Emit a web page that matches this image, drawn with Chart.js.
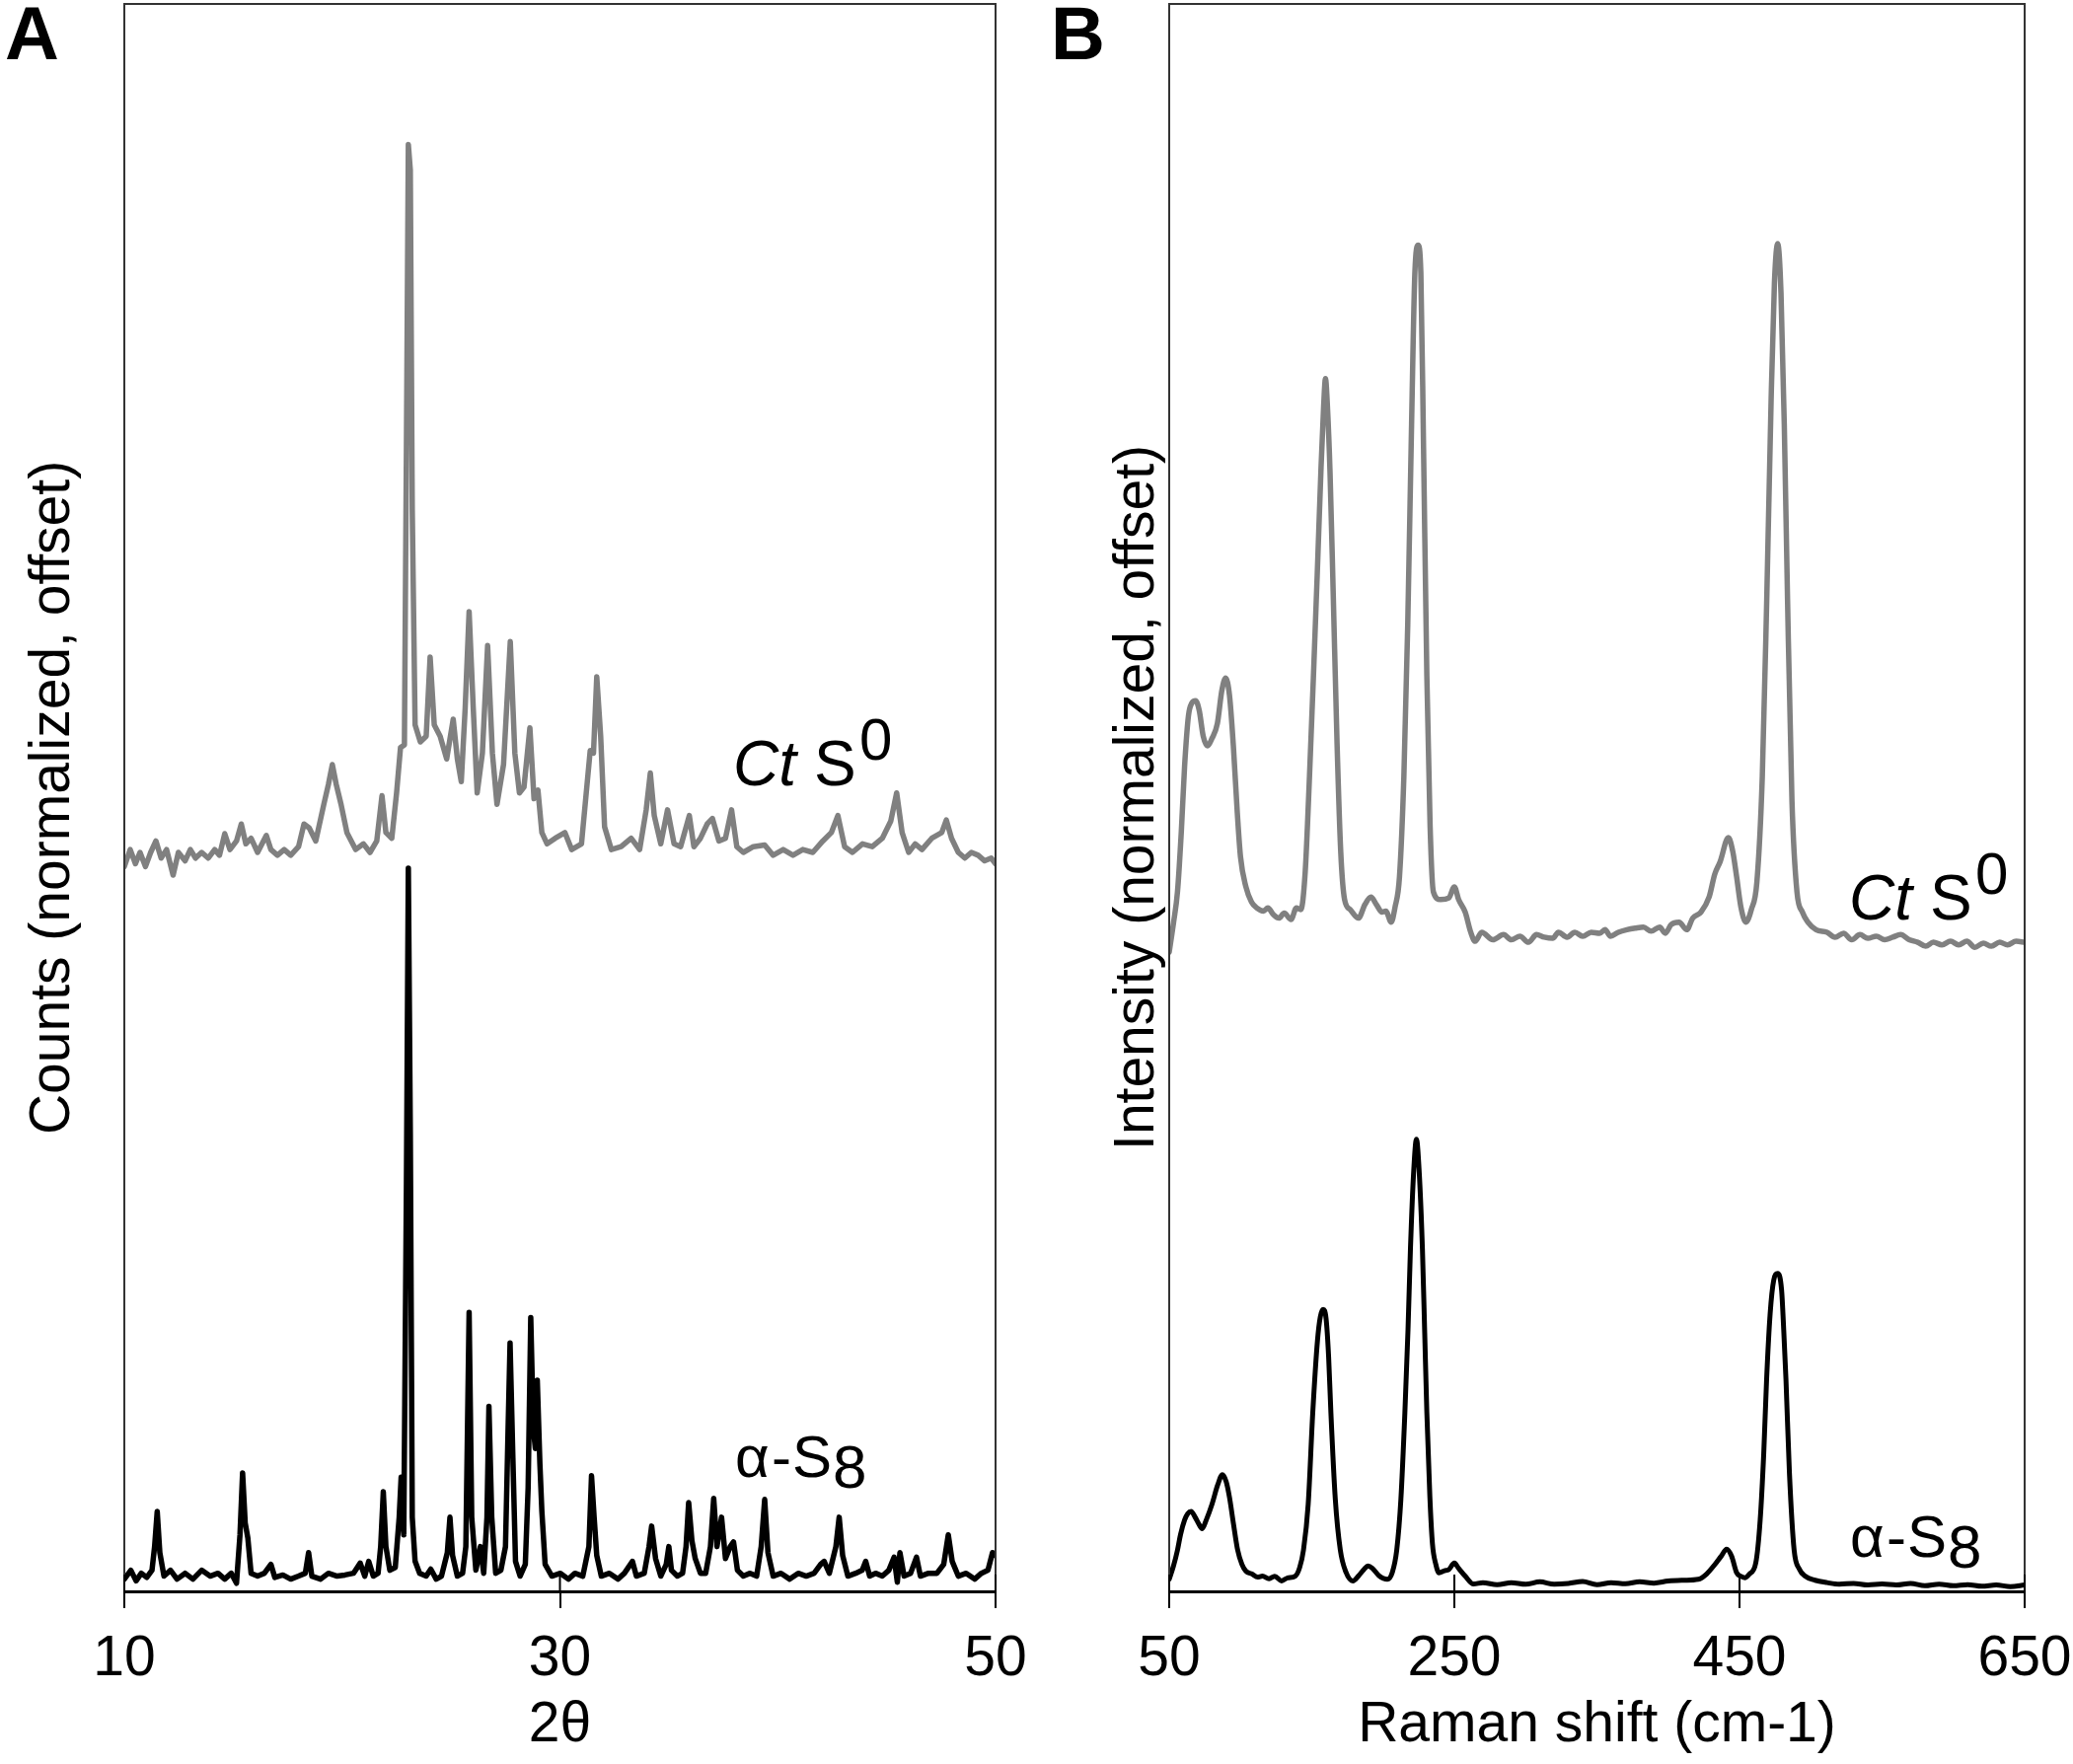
<!DOCTYPE html>
<html>
<head>
<meta charset="utf-8">
<script src="https://cdn.jsdelivr.net/npm/chart.js@4.4.0/dist/chart.umd.min.js"></script>
<style>
  body { margin: 0; background: #fff; width: 2101px; height: 1788px; overflow: hidden; position: relative; }
  .panel { position: absolute; top: 0; }
</style>
</head>
<body>
<div class="panel" style="left:0"><canvas id="xrd" width="1060" height="1788" style="width:1060px;height:1788px"></canvas></div>
<div class="panel" style="left:1040px"><canvas id="raman" width="1090" height="1788" style="width:1090px;height:1788px"></canvas></div>
<script>
// panel A: XRD, 2-theta vs normalized counts (offset)
var xrdTicks = [10, 30, 50];
var xrdCtX = [10.0,10.27,10.51,10.72,10.97,11.21,11.45,11.69,11.94,12.24,
  12.48,12.79,13.03,13.27,13.55,13.85,14.15,14.37,14.61,14.85,
  15.15,15.37,15.58,15.82,16.12,16.52,16.73,17.03,17.34,17.64,
  18.0,18.25,18.49,18.79,19.16,19.37,19.55,19.73,19.95,20.22,
  20.62,20.98,21.28,21.59,21.83,22.01,22.28,22.50,22.68,22.86,
  22.95,23.04,23.13,23.22,23.35,23.59,23.86,24.04,24.23,24.50,
  24.80,25.10,25.29,25.47,25.65,25.83,26.02,26.20,26.44,26.68,
  26.90,27.11,27.41,27.72,27.93,28.14,28.35,28.62,28.81,28.99,
  29.17,29.41,29.78,30.23,30.54,30.99,31.39,31.54,31.69,31.87,
  32.05,32.36,32.81,33.27,33.66,33.96,34.15,34.33,34.63,34.94,
  35.24,35.54,35.94,36.15,36.45,36.76,37.0,37.30,37.60,37.88,
  38.12,38.42,38.88,39.40,39.79,40.25,40.70,41.15,41.61,42.07,
  42.46,42.76,43.07,43.43,43.89,44.34,44.80,45.19,45.46,45.71,
  46.01,46.31,46.62,47.07,47.53,47.74,47.98,48.29,48.59,48.89,
  49.20,49.50,49.80,50.0];
var xrdCtY = [45.66,46.73,45.84,46.55,45.66,46.55,47.27,46.19,46.73,45.12,
  46.55,46.02,46.73,46.19,46.55,46.19,46.73,46.37,47.73,46.73,
  47.27,48.34,47.09,47.44,46.55,47.62,46.73,46.37,46.73,46.37,
  46.91,48.34,48.09,47.27,49.58,50.83,52.08,50.83,49.58,47.80,
  46.73,47.09,46.55,47.27,50.12,47.80,47.44,50.30,53.15,53.33,
  71.71,91.15,89.55,68.14,54.58,53.51,53.87,58.86,54.58,53.87,
  52.44,54.94,52.44,51.01,55.65,61.72,55.65,50.30,52.80,59.58,
  52.80,49.58,52.08,59.83,52.80,50.30,50.66,54.40,49.94,50.48,
  47.80,47.09,47.44,47.80,46.73,47.09,52.97,52.80,57.61,53.87,
  48.16,46.73,46.91,47.44,46.73,49.23,51.55,48.87,47.09,49.23,
  47.09,46.91,48.87,46.91,47.44,48.34,48.69,47.27,47.44,49.23,
  46.91,46.55,46.91,47.02,46.37,46.73,46.37,46.73,46.55,47.27,
  47.80,48.87,46.91,46.55,47.09,46.91,47.44,48.52,50.30,47.80,
  46.55,47.09,46.73,47.44,47.80,48.59,47.44,46.55,46.19,46.55,
  46.37,46.02,46.19,45.84];
var xrdS8X = [10.0,10.30,10.54,10.78,11.03,11.27,11.39,11.51,11.63,11.82,
  12.12,12.42,12.79,13.15,13.55,13.94,14.30,14.61,14.91,15.15,
  15.31,15.43,15.55,15.67,15.82,16.12,16.43,16.73,16.91,17.28,
  17.64,18.0,18.31,18.46,18.61,19.01,19.37,19.77,20.13,20.52,
  20.83,21.04,21.22,21.43,21.65,21.77,21.89,22.01,22.19,22.44,
  22.62,22.71,22.83,22.95,23.04,23.13,23.22,23.35,23.56,23.86,
  24.07,24.32,24.56,24.83,24.95,25.07,25.29,25.53,25.68,25.83,
  25.95,26.14,26.35,26.50,26.65,26.74,26.87,27.05,27.29,27.50,
  27.62,27.71,27.84,27.96,28.17,28.41,28.54,28.66,28.78,28.87,
  28.96,29.08,29.17,29.32,29.63,30.02,30.39,30.69,31.05,31.33,
  31.45,31.57,31.69,31.90,32.27,32.66,32.96,33.33,33.51,33.87,
  34.09,34.21,34.39,34.63,34.88,35.0,35.12,35.39,35.63,35.79,
  35.91,36.06,36.21,36.45,36.69,36.91,37.06,37.21,37.42,37.60,
  37.82,37.97,38.15,38.42,38.73,39.03,39.24,39.40,39.55,39.79,
  40.15,40.55,40.94,41.31,41.67,41.97,42.13,42.37,42.67,42.82,
  42.98,43.22,43.58,43.88,44.04,44.22,44.49,44.80,45.10,45.34,
  45.49,45.61,45.80,46.10,46.37,46.55,46.92,47.31,47.62,47.83,
  48.01,48.29,48.65,49.04,49.35,49.65,49.86,50.0];
var xrdS8Y = [0.77,1.33,0.66,1.14,0.88,1.33,2.82,5.04,2.44,0.96,
  1.33,0.77,1.14,0.77,1.33,0.96,1.14,0.77,1.14,0.51,
  3.56,7.46,4.30,3.37,1.14,0.96,1.14,1.70,0.88,1.03,
  0.77,0.96,1.14,2.44,0.96,0.77,1.14,0.96,1.03,1.14,
  1.78,0.96,1.89,0.96,1.14,2.82,6.27,2.82,1.33,1.51,
  4.67,7.20,3.56,25.12,45.56,28.84,4.67,1.89,1.14,0.96,
  1.40,0.77,0.96,2.44,4.67,2.26,0.96,1.14,2.82,17.57,
  4.67,1.33,2.82,1.14,4.67,11.66,4.67,1.14,1.33,2.82,
  10.25,15.64,8.39,1.89,0.96,1.70,6.53,17.24,10.25,9.0,
  13.30,8.02,5.04,1.70,0.96,1.14,0.77,1.14,0.96,2.82,
  7.28,4.67,2.26,0.96,1.14,0.77,1.14,1.89,0.96,1.14,
  2.82,4.11,2.07,0.96,1.70,2.82,1.33,0.96,1.14,2.82,
  5.60,3.19,2.07,1.14,1.14,2.82,5.86,2.82,4.67,2.07,
  2.82,3.11,1.33,0.96,1.14,0.96,2.82,5.79,2.44,0.96,
  1.14,0.77,1.14,0.96,1.14,1.70,1.89,1.14,2.82,4.67,
  2.26,0.96,1.14,1.33,1.89,0.96,1.14,0.96,1.33,2.15,
  0.58,2.44,0.96,1.14,2.15,0.96,1.14,1.14,1.70,3.56,
  1.89,0.96,1.14,0.77,1.14,1.33,2.44,2.26];

// panel B: Raman shift (cm-1) vs normalized intensity (offset), [shift, intensity]
var ramanTicks = [50, 250, 450, 650];
var ramanCt = [
  [50,40.26],[53.1,42.16],[55.8,44.06],[58.5,47.87],[60.8,51.99],[63.5,55.16],[65.8,55.95],[68.5,56.11],[71.1,55.48],[73.8,53.89],
  [76.9,53.26],[80,53.73],[83.8,54.68],[86.9,56.74],[89.6,57.54],[92.3,56.43],[95,53.26],[97.7,49.14],[100,46.28],[103.8,44.38],
  [107.7,43.43],[111.5,43.05],[116.1,42.86],[119.2,43.05],[123.1,42.63],[126.9,42.41],[130.7,42.73],[135.4,42.32],[139.2,43.05],[142.3,42.95],
  [145.4,45.33],[148.4,51.35],[151.1,57.5],[153.8,64.0],[156.5,70.8],[158.3,74.6],[159.6,76.4],[161,74.6],[162.8,70.5],[165,63.0],
  [167.7,53.5],[170.3,46.6],[173,43.58],[176.9,42.95],[182.7,42.41],[187.3,43.27],[191.5,43.74],[195.3,43.27],[199.2,42.79],[201.9,42.86],
  [205.7,42.16],[208.4,43.1],[211.5,45.0],[214.6,51.35],[217.3,60.87],[220,73.55],[222.3,83.06],[224.6,84.8],[226.5,83.06],[228.4,71.97],
  [230.7,57.7],[233,48.18],[235.3,44.06],[240.3,43.58],[246.1,43.68],[250,44.38],[253,43.58],[257.6,42.79],[261.5,41.52],[264.6,40.95],
  [269.2,41.52],[277,41.05],[284.5,41.37],[290,41.05],[296,41.27],[302,40.89],[307.6,41.37],[313,41.21],[319,41.14],[323,41.52],
  [329,41.21],[334.5,41.52],[340,41.27],[346,41.52],[352,41.46],[355.7,41.68],[359.5,41.27],[365,41.52],[371,41.68],[377,41.78],
  [382.6,41.84],[388,41.59],[394,41.84],[398,41.46],[402,42.0],[407.6,42.16],[413,41.68],[417.2,42.41],[423,42.79],[428.7,43.74],
  [432.6,45.17],[436.4,45.96],[442.2,47.48],[445.3,46.6],[448,45.0],[451,43.1],[454.5,42.16],[458.3,42.95],[462.2,44.69],[466,51.35],
  [469.1,62.45],[472.2,75.14],[474.5,82.43],[476.8,84.9],[479.1,81.8],[481.4,73.55],[483.7,62.45],[486.8,49.77],[490.3,44.06],[494.1,42.79],
  [497.9,42.16],[503.7,41.68],[511.4,41.52],[517,41.21],[523,41.46],[528.7,41.05],[534.5,41.37],[540,41.14],[546,41.27],[551.8,41.05],
  [557.5,41.21],[563,41.37],[569,41.05],[575,40.89],[580.6,40.64],[586,40.89],[592,40.73],[598,40.95],[603.7,40.73],[609.5,40.95],
  [615,40.57],[621,40.83],[626.7,40.64],[632.5,40.89],[638,40.73],[644,40.95],[650,40.89]
];
var ramanS8 = [
  [50,0.76],[53,1.6],[55.8,2.6],[58,3.6],[60.8,4.5],[63,4.9],[65.4,5.04],[68,4.7],[71,4.2],[73.1,3.95],
  [76,4.5],[80,5.49],[84,6.7],[87.3,7.35],[90,6.9],[92.3,5.91],[95,4.3],[98,2.61],[101,1.7],[103.8,1.27],
  [108,1.1],[112,0.9],[115.4,0.96],[120,0.8],[124,0.95],[128.8,0.66],[133,0.85],[138.4,0.96],[141.5,1.5],[144.2,2.61],
  [147.5,5.5],[150.7,11.27],[154,15.8],[156,17.3],[158,17.76],[160,17.2],[161.8,14.8],[163.4,11.27],[166.5,5.8],[170,2.61],
  [174,1.2],[178.8,0.66],[183,1.0],[186.5,1.37],[189.5,1.6],[192.3,1.47],[197,1.0],[203,0.76],[206.5,1.2],[209.6,2.61],
  [212.5,5.8],[215.3,11.27],[217.5,16.5],[219.2,21.57],[221.5,26.5],[223.4,28.48],[225.3,26.5],[227.6,21.57],[229.2,16.3],[230.7,11.27],
  [232.8,6.0],[234.6,3.02],[237,1.7],[239.2,1.17],[243,1.3],[246.1,1.37],[250,1.78],[253,1.45],[257.6,0.96],[263.4,0.46],
  [270,0.55],[280,0.42],[290,0.55],[300,0.45],[310,0.6],[320,0.45],[330,0.5],[340,0.62],[350,0.42],[360,0.55],
  [370,0.48],[380,0.6],[390,0.52],[400,0.65],[411,0.7],[421,0.76],[427,1.1],[432.6,1.68],[437,2.2],[441,2.65],
  [444.5,2.2],[448,1.17],[450.8,0.95],[453.7,0.86],[457,1.1],[461.4,1.78],[464.5,4.5],[467,8.7],[469,13.33],[471.5,17.5],
  [474,19.6],[476.8,20.03],[479.5,19.0],[481,16.5],[482.6,13.33],[485,7.5],[488.3,2.61],[492,1.4],[496,0.96],[503,0.7],
  [511.4,0.55],[520,0.45],[530,0.5],[540,0.4],[550,0.46],[560,0.4],[570,0.5],[580,0.35],[590,0.45],[600,0.35],
  [610,0.42],[620,0.32],[630,0.4],[640,0.3],[650,0.4]
];

var FONT = '"Liberation Sans", Arial, Helvetica, sans-serif';
Chart.defaults.font.family = FONT;
Chart.defaults.color = '#000';

function xy(xs, ys) { return xs.map(function (v, i) { return {x: v, y: ys[i]}; }); }
function pairs(list) { return list.map(function (p) { return {x: p[0], y: p[1]}; }); }

// sample labels drawn next to the traces
function ctLabel(x, y) {
  return {x: x, y: y, parts: [
    {text: 'Ct', font: 'italic 64px ' + FONT, dx: 0, dy: 0},
    {text: 'S', font: '64px ' + FONT, dx: 82, dy: 0},
    {text: '0', font: '60px ' + FONT, dx: 128, dy: -26}
  ]};
}
function s8Label(x, y) {
  return {x: x, y: y, parts: [
    {text: 'α', font: '60px ' + FONT, dx: 0, dy: 0},
    {text: '-', font: '60px ' + FONT, dx: 37, dy: 0},
    {text: 'S', font: '60px ' + FONT, dx: 58, dy: 0},
    {text: '8', font: '62px ' + FONT, dx: 99, dy: 11}
  ]};
}

var panelDecor = {
  id: 'panelDecor',
  afterDatasetsDraw: function (chart, args, o) {
    var ctx = chart.ctx, a = chart.chartArea, x = chart.scales.x, y = chart.scales.y;
    ctx.save();
    // box round the plot (bottom line is the x axis border)
    ctx.strokeStyle = '#333';
    ctx.lineWidth = 2;
    ctx.beginPath();
    ctx.moveTo(a.left, a.bottom);
    ctx.lineTo(a.left, a.top);
    ctx.lineTo(a.right, a.top);
    ctx.lineTo(a.right, a.bottom);
    ctx.stroke();
    // tick marks also cross into the plot
    ctx.strokeStyle = '#000';
    x.ticks.forEach(function (t) {
      var px = x.getPixelForValue(t.value);
      ctx.beginPath();
      ctx.moveTo(px, a.bottom);
      ctx.lineTo(px, a.bottom - 17);
      ctx.stroke();
    });
    ctx.fillStyle = '#000';
    ctx.textBaseline = 'alphabetic';
    ctx.textAlign = 'left';
    ctx.font = 'bold 76px ' + FONT;
    ctx.fillText(o.letter, o.letterX, 60);
    o.labels.forEach(function (l) {
      var bx = x.getPixelForValue(l.x), by = y.getPixelForValue(l.y);
      l.parts.forEach(function (p) {
        ctx.font = p.font;
        ctx.fillText(p.text, bx + p.dx, by + p.dy);
      });
    });
    ctx.restore();
  }
};

function makePanel(id, cfg) {
  return new Chart(document.getElementById(id), {
    type: 'line',
    data: {datasets: cfg.datasets},
    plugins: [panelDecor],
    options: {
      responsive: false,
      animation: false,
      devicePixelRatio: 1,
      layout: {padding: {top: 4, right: cfg.padRight, left: 0, bottom: 0}},
      elements: {point: {radius: 0}, line: {borderJoinStyle: 'round', borderCapStyle: 'round'}},
      plugins: {
        legend: {display: false},
        tooltip: {enabled: false},
        panelDecor: {letter: cfg.letter, letterX: cfg.letterX, labels: cfg.labels}
      },
      scales: {
        x: {
          type: 'linear',
          min: cfg.ticks[0],
          max: cfg.ticks[cfg.ticks.length - 1],
          afterBuildTicks: function (s) { s.ticks = cfg.ticks.map(function (v) { return {value: v}; }); },
          afterFit: function (s) { s.height = 175; },
          ticks: {font: {size: 57}, color: '#000', padding: 18, maxRotation: 0, autoSkip: false},
          grid: {display: true, drawOnChartArea: false, drawTicks: true, tickLength: 17, color: '#000', lineWidth: 2},
          border: {display: true, color: '#000', width: 3},
          title: {display: true, text: cfg.xTitle, font: {size: 57}, color: '#000', padding: {top: 0, bottom: 5}}
        },
        y: {
          type: 'linear',
          min: 0,
          max: 100,
          afterFit: function (s) { s.width = cfg.yWidth; },
          ticks: {display: false},
          grid: {display: false},
          border: {display: false},
          title: {display: true, text: cfg.yTitle, font: {size: 57}, color: '#000', padding: {top: cfg.yTitlePad, bottom: 0}}
        }
      }
    }
  });
}

makePanel('xrd', {
  letter: 'A', letterX: 5,
  padRight: 51, yWidth: 126, yTitlePad: 20,
  ticks: xrdTicks,
  xTitle: '2θ',
  yTitle: 'Counts (normalized, offset)',
  labels: [ctLabel(37.95, 50.78), s8Label(38.04, 7.21)],
  datasets: [
    {data: xy(xrdCtX, xrdCtY), borderColor: '#808080', borderWidth: 5.5, tension: 0, fill: false},
    {data: xy(xrdS8X, xrdS8Y), borderColor: '#000', borderWidth: 5.5, tension: 0, fill: false}
  ]
});

makePanel('raman', {
  letter: 'B', letterX: 25,
  padRight: 78, yWidth: 145, yTitlePad: 79,
  ticks: ramanTicks,
  xTitle: 'Raman shift (cm-1)',
  yTitle: 'Intensity (normalized, offset)',
  labels: [ctLabel(526.8, 42.32), s8Label(527.5, 2.18)],
  datasets: [
    {data: pairs(ramanCt), borderColor: '#808080', borderWidth: 5.5, cubicInterpolationMode: 'monotone', fill: false},
    {data: pairs(ramanS8), borderColor: '#000', borderWidth: 5, cubicInterpolationMode: 'monotone', fill: false}
  ]
});
</script>
</body>
</html>
